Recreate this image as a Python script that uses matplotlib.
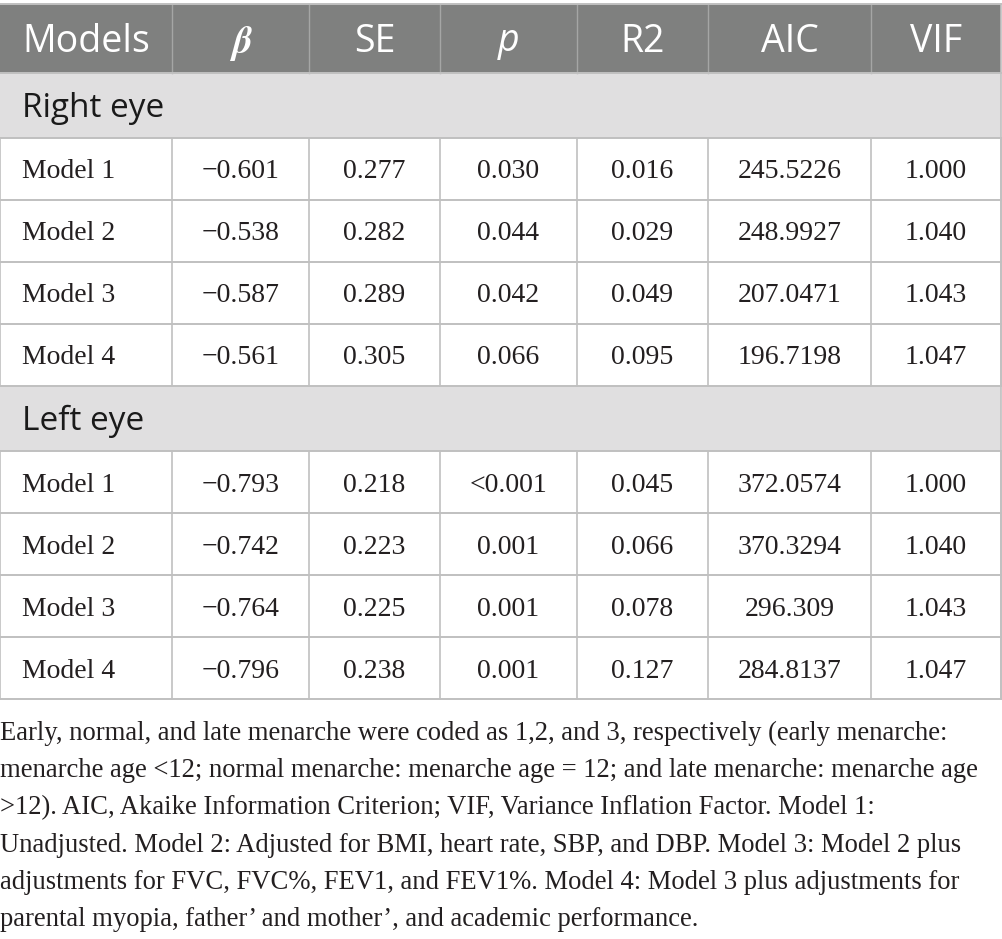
import matplotlib.pyplot as plt
from matplotlib.patches import Rectangle

# table content
headers = ['Models', r'$\boldsymbol{\beta}$', 'SE', 'p', 'R2', 'AIC', 'VIF']
sections = ['Right eye', 'Left eye']
models = ['Model 1', 'Model 2', 'Model 3', 'Model 4']
beta = [['\u22120.601', '\u22120.538', '\u22120.587', '\u22120.561'],
        ['\u22120.793', '\u22120.742', '\u22120.764', '\u22120.796']]
se = [['0.277', '0.282', '0.289', '0.305'],
      ['0.218', '0.223', '0.225', '0.238']]
pval = [['0.030', '0.044', '0.042', '0.066'],
        ['<0.001', '0.001', '0.001', '0.001']]
r2 = [['0.016', '0.029', '0.049', '0.095'],
      ['0.045', '0.066', '0.078', '0.127']]
aic = [['245.5226', '248.9927', '207.0471', '196.7198'],
       ['372.0574', '370.3294', '296.309', '284.8137']]
vif = [['1.000', '1.040', '1.043', '1.047'],
       ['1.000', '1.040', '1.043', '1.047']]
footnote = [
    'Early, normal, and late menarche were coded as 1,2, and 3, respectively (early menarche:',
    'menarche age <12; normal menarche: menarche age = 12; and late menarche: menarche age',
    '>12). AIC, Akaike Information Criterion; VIF, Variance Inflation Factor. Model 1:',
    'Unadjusted. Model 2: Adjusted for BMI, heart rate, SBP, and DBP. Model 3: Model 2 plus',
    'adjustments for FVC, FVC%, FEV1, and FEV1%. Model 4: Model 3 plus adjustments for',
    'parental myopia, father\u2019 and mother\u2019, and academic performance.',
]

# layout (pixels)
W, H = 1002, 939
col_edges = [0, 172, 309, 440, 577, 708, 871, 1001]
top = 4
header_h = 69
section_h = 65
row_h = 62
grid_col = '#c0c0c0'
header_bg = '#7f807f'
section_bg = '#e0dfe0'
text_col = '#231f20'
serif = 'Liberation Serif'
sans = 'Open Sans'
dy = 3  # nudge text down to optical centre

fig = plt.figure(figsize=(W / 100, H / 100), dpi=100)
ax = fig.add_axes([0, 0, 1, 1])
ax.set_xlim(0, W)
ax.set_ylim(H, 0)
ax.axis('off')

x0, x1 = col_edges[0], col_edges[-1]
cx = [(col_edges[i] + col_edges[i + 1]) / 2 for i in range(len(col_edges) - 1)]

# header
y = top
ax.add_patch(Rectangle((x0, y), x1 - x0, header_h, facecolor=header_bg, edgecolor='none'))
for xe in col_edges[1:-1]:
    ax.plot([xe, xe], [y, y + header_h], color='#a5a6a5', lw=1)
yc = y + header_h / 2 + dy
for i, h in enumerate(headers):
    if i == 0:
        ax.text(22, yc, h, color='white', fontsize=27, family=sans, va='center', ha='left')
    elif i == 1:
        ax.text(cx[i], yc + 2, h, color='white', fontsize=28, va='center', ha='center',
                math_fontfamily='stix')
    elif h == 'p':
        ax.text(cx[i], yc, h, color='white', fontsize=27, family=sans, style='italic',
                va='center', ha='center')
    else:
        ax.text(cx[i], yc, h, color='white', fontsize=27, family=sans, va='center', ha='center')
y += header_h

row_lines = [top, y]
for s, sec in enumerate(sections):
    ax.add_patch(Rectangle((x0, y), x1 - x0, section_h, facecolor=section_bg, edgecolor='none'))
    ax.text(22, y + section_h / 2 + dy, sec, color='#1a1a1a', fontsize=24, family=sans,
            va='center', ha='left')
    y += section_h
    row_lines.append(y)
    for r, m in enumerate(models):
        yc = y + row_h / 2 + dy
        vals = [m, beta[s][r], se[s][r], pval[s][r], r2[s][r], aic[s][r], vif[s][r]]
        for i, v in enumerate(vals):
            if i == 0:
                ax.text(22, yc, v, color=text_col, fontsize=20, family=serif, va='center', ha='left')
            else:
                ax.text(cx[i], yc, v, color=text_col, fontsize=20, family=serif,
                        va='center', ha='center')
        for xe in col_edges:
            ax.plot([xe, xe], [y, y + row_h], color=grid_col, lw=1.2)
        y += row_h
        row_lines.append(y)

for yl in row_lines:
    ax.plot([x0, x1], [yl, yl], color=grid_col, lw=1.4)
ax.plot([x1, x1], [top, y], color=grid_col, lw=1.2)

# footnote
fy = 730 + dy
for line in footnote:
    ax.text(0, fy, line, color=text_col, fontsize=19.2, family=serif, va='center', ha='left')
    fy += 37.4

fig.savefig('out.png', dpi=100)
